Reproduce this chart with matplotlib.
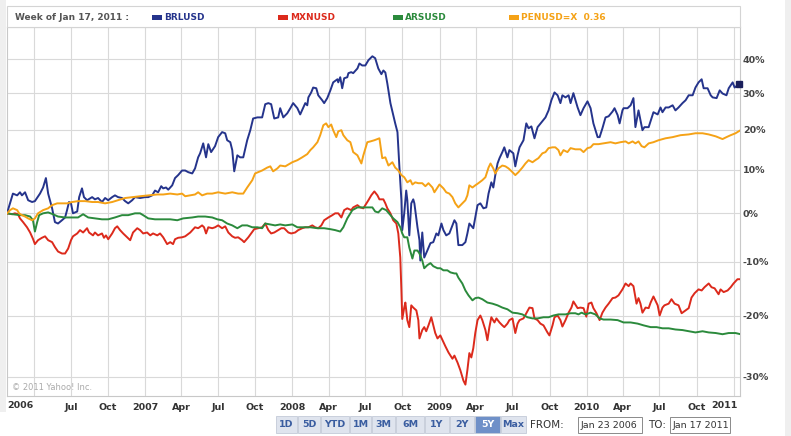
import matplotlib
matplotlib.use('Agg')
import matplotlib.pyplot as plt
import matplotlib.ticker as mticker
from matplotlib.patches import Rectangle
import datetime as dt

W, H = 791, 436
START = dt.datetime(2006, 1, 23)
END = dt.datetime(2011, 1, 17)

# ---- data: weeks since Jan 23 2006, percent change since start ----
brl_weeks = [0.0,2.1,3.6,4.6,5.3,6.4,7.5,8.9,9.9,11.7,12.8,13.8,14.6,16.0,17.0,18.1,19.5,20.6,21.3,22.0,
 22.7,23.4,24.9,25.6,26.6,27.3,28.4,30.2,31.2,32.3,33.7,34.8,35.9,37.3,38.3,39.4,40.8,41.9,43.0,44.4,
 45.4,47.2,49.0,50.1,51.5,52.5,53.6,54.7,55.4,56.4,57.2,58.6,59.6,60.7,62.1,63.2,64.3,65.7,66.7,67.8,
 68.5,69.6,70.6,71.4,72.4,73.8,74.9,76.3,77.4,78.1,79.2,79.9,80.6,81.7,82.7,83.8,85.2,86.3,87.3,88.8,
 90.5,91.6,92.7,93.7,94.8,96.2,96.9,98.0,99.4,100.5,101.5,103.0,104.0,105.1,105.8,106.5,106.9,107.9,108.6,109.7,
 110.4,111.8,112.5,113.6,114.7,115.7,117.2,117.5,118.2,118.9,119.6,120.7,121.1,122.1,122.8,124.3,125.0,126.0,127.1,128.2,
 129.6,130.6,131.7,132.8,133.5,134.2,134.9,136.0,137.0,137.7,138.5,139.2,139.9,140.2,140.9,141.6,142.0,142.7,143.4,144.1,
 144.5,145.6,146.3,146.6,147.3,148.0,149.1,150.2,151.2,152.3,153.0,154.1,154.8,155.8,156.9,158.0,158.7,159.4,160.1,161.5,
 162.6,163.3,164.0,165.4,166.1,166.9,167.9,169.0,170.0,170.8,171.8,172.5,173.2,174.0,174.7,175.7,176.4,177.5,178.2,179.6,
 180.3,181.1,181.8,183.2,184.2,185.0,186.0,187.1,188.2,189.6,191.0,192.1,193.1,194.2,195.3,196.3,197.0,198.1,199.2,199.9,
 200.9,202.4,203.4,204.5,205.9,207.0,208.0,209.5,210.2,211.2,212.3,213.4,214.8,215.5,216.6,217.3,218.3,218.7,220.1,221.2,
 222.2,222.9,224.0,224.7,225.4,226.1,227.6,228.6,229.3,230.8,231.8,232.5,233.6,234.7,236.1,237.1,238.2,239.6,240.7,241.8,
 243.2,244.2,245.3,246.4,247.1,248.5,249.6,250.3,251.7,252.8,253.8,255.2,256.0,257.4,258.1,259.5]
brl_pct = [0.0,4.4,4.0,4.7,4.0,4.7,2.9,2.5,2.7,4.4,5.8,8.0,4.4,1.1,-1.9,-2.2,-1.5,-0.9,0.7,2.5,
 2.2,0.0,0.4,3.6,5.6,3.6,2.9,3.6,3.1,3.4,2.5,3.4,2.9,3.6,4.0,3.6,3.4,2.7,2.2,2.9,
 3.6,3.4,3.6,3.6,4.0,5.1,4.7,6.1,5.6,5.8,5.3,6.3,8.0,8.7,9.8,9.8,9.4,9.1,10.3,13.0,
 14.0,16.5,13.0,16.3,14.3,15.8,18.1,19.4,19.1,17.3,16.8,14.8,9.6,13.5,13.0,13.0,17.3,19.9,23.0,23.3,
 23.3,26.9,27.2,26.9,23.0,23.3,25.8,23.3,24.4,25.8,27.2,25.8,24.1,26.0,27.2,26.6,28.8,30.2,31.6,31.4,
 29.4,28.0,27.2,28.6,30.8,33.1,34.0,33.1,34.6,31.4,34.3,34.6,35.8,36.1,35.8,37.2,38.7,38.1,38.1,39.7,
 40.9,40.3,37.2,35.5,36.6,36.0,32.8,27.2,23.9,21.7,19.4,10.5,2.9,-3.6,0.0,5.1,2.9,-4.7,2.2,3.1,
 2.2,-3.0,-5.7,-9.8,-4.1,-9.2,-7.8,-6.3,-6.1,-4.3,-4.7,-2.2,-3.6,-4.7,-4.3,-2.6,-1.5,-2.2,-6.7,-6.7,
 -6.1,-4.3,-2.2,-3.2,-0.9,1.8,2.2,1.1,1.3,4.4,7.0,5.8,8.7,11.5,12.8,14.3,15.5,13.0,14.8,14.0,
 10.8,13.5,15.5,17.3,21.7,20.4,20.9,17.8,20.7,22.0,23.3,25.2,28.0,30.2,29.4,27.2,29.4,28.8,29.4,27.2,
 30.0,26.0,23.9,25.8,27.7,25.8,21.7,18.1,18.1,20.4,23.3,23.6,24.9,25.8,23.9,21.7,25.2,25.8,25.8,26.6,
 28.6,20.7,25.2,22.5,19.9,20.7,20.7,23.0,24.7,24.1,26.0,24.7,26.0,26.0,26.6,25.2,26.0,27.2,28.0,29.4,
 29.4,31.6,33.1,34.0,31.4,31.4,29.4,28.8,28.6,30.8,29.9,29.4,31.4,33.1,31.6,32.5]

mxn_weeks = [0.0,1.8,2.8,3.9,4.6,5.7,7.1,8.2,9.2,9.9,11.0,12.4,13.5,14.6,16.0,17.0,18.1,19.5,20.6,21.7,
 22.7,23.4,24.9,25.9,27.0,28.4,29.1,30.5,31.2,32.3,33.7,34.4,35.1,35.9,37.3,38.3,39.1,40.1,41.2,42.6,
 43.7,44.7,46.2,47.2,48.3,49.7,50.8,51.8,53.3,54.3,55.4,56.8,57.9,58.9,59.6,60.7,62.1,63.2,65.0,66.7,
 67.8,69.2,69.9,70.6,71.4,72.8,73.8,74.9,76.3,77.4,78.5,79.9,80.9,82.0,83.4,84.1,85.6,86.6,87.7,89.1,
 90.5,91.6,92.7,93.7,94.8,96.2,97.3,98.3,99.8,100.8,102.2,103.3,104.7,105.8,106.9,108.3,109.3,110.4,111.5,112.5,
 114.0,115.4,116.4,117.5,118.6,119.6,120.7,122.1,122.8,124.3,125.3,126.4,127.1,128.2,129.2,130.3,131.4,132.1,133.5,134.2,
 134.9,136.0,137.0,138.1,138.8,139.5,139.9,140.2,140.9,141.3,142.0,142.7,143.4,144.1,145.2,145.9,146.3,147.3,148.0,148.7,
 149.5,150.5,151.2,151.9,152.7,153.7,154.8,155.5,156.6,158.0,158.7,159.8,160.8,161.9,162.6,163.3,164.0,164.7,165.4,166.1,
 166.9,167.9,168.6,169.7,170.4,171.1,171.8,172.9,173.6,174.7,175.7,176.4,177.5,178.2,179.3,180.3,181.1,181.8,183.2,184.2,
 185.3,186.4,187.1,188.2,189.2,190.3,191.7,192.4,193.5,194.2,195.3,196.3,197.0,198.1,199.2,200.2,200.9,202.4,203.4,204.5,
 205.5,206.3,207.3,208.0,209.1,210.2,211.2,212.3,213.4,214.8,215.8,216.9,218.3,219.4,220.5,221.2,222.2,223.3,224.0,224.7,
 225.4,226.5,227.6,228.3,229.3,230.8,231.5,232.5,233.2,234.7,235.7,236.8,238.2,239.3,240.7,241.8,242.8,243.9,245.3,246.4,
 247.4,248.9,249.9,251.0,252.4,253.1,254.2,255.6,256.7,257.7,259.1,260.2]
mxn_pct = [0.0,-0.2,0.0,-0.2,-1.1,-1.9,-3.0,-4.1,-5.4,-6.5,-5.7,-5.2,-4.9,-5.7,-6.1,-7.1,-8.0,-8.4,-8.4,-7.4,
 -5.7,-4.9,-4.3,-3.6,-4.1,-3.2,-4.1,-4.7,-4.1,-4.7,-4.3,-5.2,-4.7,-5.5,-4.3,-3.2,-2.8,-3.6,-4.3,-5.1,
 -5.7,-4.1,-3.2,-3.6,-4.3,-4.1,-4.7,-4.3,-4.7,-4.3,-5.1,-6.5,-6.1,-6.5,-5.5,-5.2,-5.1,-4.9,-4.1,-3.0,
 -3.2,-2.6,-3.0,-4.3,-3.0,-3.2,-3.0,-2.6,-3.2,-2.8,-4.1,-4.9,-5.2,-5.1,-5.7,-6.1,-5.1,-4.3,-3.4,-3.2,
 -3.0,-2.2,-3.6,-4.3,-4.1,-3.6,-3.2,-3.2,-4.1,-4.3,-4.1,-3.6,-3.2,-3.0,-3.0,-2.6,-3.0,-3.2,-2.6,-1.5,
 -0.9,-0.4,0.0,0.0,-0.9,0.7,1.1,0.7,1.3,1.8,1.3,1.1,1.8,2.9,4.0,4.9,4.0,3.1,3.1,2.2,
 1.1,0.0,-1.5,-2.2,-4.3,-9.2,-15.5,-20.6,-18.6,-17.7,-20.8,-22.0,-18.2,-18.6,-19.1,-20.8,-23.9,-22.5,-22.0,-22.7,
 -21.7,-20.3,-21.7,-23.0,-23.9,-23.4,-24.5,-25.2,-26.2,-27.2,-26.7,-27.8,-29.0,-30.6,-31.2,-29.0,-26.3,-27.0,-25.5,-23.0,
 -20.8,-20.0,-20.8,-22.5,-24.2,-22.0,-20.3,-21.2,-20.5,-21.2,-21.7,-22.0,-21.4,-20.8,-20.5,-23.0,-21.4,-20.8,-20.5,-19.6,
 -18.6,-18.7,-20.5,-20.8,-21.4,-21.7,-22.9,-23.4,-21.7,-20.3,-20.0,-20.8,-21.9,-20.8,-19.5,-18.6,-17.5,-18.7,-18.6,-18.7,
 -20.2,-17.9,-17.7,-18.7,-19.6,-20.8,-19.5,-18.6,-17.9,-16.9,-16.8,-16.4,-15.3,-14.2,-14.7,-14.2,-14.7,-17.9,-16.9,-17.9,
 -19.5,-18.6,-18.7,-17.7,-16.6,-18.2,-20.0,-18.6,-18.2,-17.9,-17.1,-17.9,-18.2,-19.6,-19.1,-18.7,-16.8,-16.0,-15.3,-15.5,
 -14.9,-14.2,-14.9,-15.1,-16.2,-15.3,-15.8,-15.5,-14.9,-14.2,-13.4,-13.4]

ars_weeks = [0.0,2.1,4.6,6.4,8.2,9.2,9.9,10.7,11.4,12.8,14.6,16.3,18.1,20.6,23.1,25.2,27.0,28.8,31.2,33.7,
 35.9,38.3,40.8,43.0,45.4,47.2,48.3,50.1,52.5,55.0,57.9,60.4,62.5,65.7,67.8,70.3,72.8,74.6,76.3,78.1,
 79.9,81.7,83.4,85.2,87.0,88.8,90.5,91.6,93.4,95.1,96.9,98.7,101.2,103.0,105.1,107.6,110.1,112.5,114.7,116.4,
 118.2,119.3,120.7,121.8,122.5,124.3,126.0,128.2,129.6,130.6,131.7,133.1,134.5,136.0,137.0,138.5,139.5,140.2,140.9,142.0,
 142.7,143.8,144.5,145.6,146.3,147.3,148.0,149.1,150.2,151.2,152.7,153.7,154.8,156.2,157.3,158.7,159.4,160.1,161.5,162.6,
 163.7,165.1,166.1,167.2,168.6,170.4,172.2,174.0,175.7,177.5,179.3,181.1,182.8,184.6,186.4,188.2,190.3,192.1,193.8,195.6,
 198.1,199.9,201.6,202.7,203.8,205.2,207.0,208.7,210.2,211.6,214.1,216.6,218.7,221.2,223.7,225.8,228.3,230.4,232.5,234.7,
 237.1,239.6,241.8,244.2,246.7,248.9,251.4,253.8,256.0,258.4,260.2]
ars_pct = [0.0,-0.2,-0.4,-0.4,-0.7,-1.5,-3.9,-1.9,-0.4,0.0,0.2,-0.2,-0.7,-0.9,-0.9,-0.9,-0.2,-0.9,-1.1,-1.3,
 -1.3,-0.9,-0.4,-0.4,0.0,0.0,-0.4,-1.1,-1.3,-1.3,-1.3,-1.5,-1.1,-0.9,-0.7,-0.7,-0.9,-1.3,-1.5,-2.2,
 -2.6,-3.2,-2.6,-2.6,-3.0,-3.0,-3.2,-2.2,-2.4,-2.6,-2.4,-2.6,-2.4,-3.0,-3.0,-3.0,-3.2,-3.2,-3.4,-3.6,
 -3.9,-3.0,-1.1,0.0,0.7,1.3,1.3,1.3,1.3,0.4,0.2,1.1,0.7,-0.4,-1.1,-1.9,-3.0,-4.3,-5.1,-5.1,
 -7.2,-9.4,-7.8,-7.8,-8.4,-9.8,-11.3,-10.7,-10.3,-10.9,-11.3,-11.3,-11.7,-11.7,-12.1,-12.3,-12.3,-13.1,-14.2,-15.5,
 -16.4,-17.3,-16.9,-16.8,-17.1,-17.7,-17.9,-18.2,-18.6,-18.9,-19.5,-19.6,-19.8,-20.3,-20.5,-20.5,-20.3,-20.3,-20.0,-19.8,
 -19.8,-19.6,-19.6,-19.8,-19.5,-19.8,-19.5,-19.8,-20.5,-20.7,-20.7,-20.8,-21.2,-21.2,-21.4,-21.7,-22.0,-22.0,-22.2,-22.2,
 -22.4,-22.5,-22.7,-22.9,-22.7,-22.9,-23.0,-23.2,-23.0,-23.0,-23.2]

pen_weeks = [0.0,1.1,2.1,3.6,4.3,5.3,6.4,7.5,8.9,9.9,11.0,12.8,14.6,16.0,17.8,19.5,21.3,23.1,25.2,27.7,
 30.2,32.3,34.8,37.3,39.4,41.9,44.4,47.2,50.1,53.3,55.4,57.9,60.4,62.1,63.2,65.0,66.7,67.8,69.2,71.0,
 72.8,74.9,77.4,79.9,82.0,83.8,85.2,87.0,88.0,89.1,90.5,92.3,93.4,94.4,95.9,96.9,98.7,101.2,103.0,104.7,
 106.5,107.6,108.6,110.1,111.1,112.2,113.2,114.0,115.0,115.7,116.8,117.5,118.6,119.3,120.7,121.8,122.8,124.3,125.7,126.4,
 127.8,128.9,130.3,131.4,132.1,133.1,134.2,135.3,136.7,137.7,138.8,139.9,140.9,142.0,143.1,143.8,144.8,145.9,147.3,148.4,
 149.5,150.9,151.6,152.7,153.4,154.8,155.8,156.9,158.0,159.0,160.1,161.5,162.6,163.3,164.0,165.1,166.1,167.2,168.6,169.7,
 170.8,171.5,172.5,173.2,174.3,175.7,176.8,177.9,179.3,180.3,181.4,182.8,183.9,185.0,186.4,187.4,188.5,189.9,191.0,192.1,
 193.5,194.5,195.6,196.3,197.4,198.8,199.9,201.6,203.4,204.5,205.9,207.0,208.0,209.8,211.6,214.1,215.8,217.6,219.4,220.5,
 221.9,222.9,224.0,225.1,226.1,227.6,229.3,231.1,233.6,236.1,238.9,241.8,244.2,246.7,248.9,251.4,253.8,255.2,256.7,258.4,260.2]
pen_pct = [0.0,0.7,1.1,0.7,0.0,-0.4,-0.7,-1.1,-1.5,-1.1,0.0,0.7,1.1,1.8,2.2,2.2,2.2,2.5,2.7,2.7,
 2.5,2.5,2.2,2.5,2.9,3.4,3.6,3.8,4.0,4.2,4.2,4.4,4.2,4.4,3.8,4.0,4.2,4.7,4.0,4.4,
 4.4,4.7,4.4,4.7,4.4,4.4,5.8,7.5,9.1,9.4,9.8,10.5,10.8,9.6,10.3,11.0,10.8,11.8,12.3,13.0,
 13.8,14.8,15.5,16.8,18.6,21.2,21.7,20.7,21.4,19.9,18.1,19.6,19.9,18.6,17.3,16.8,14.3,13.5,11.5,13.5,
 16.8,17.0,17.3,17.6,17.8,12.8,13.0,11.0,11.8,10.5,9.8,8.7,8.2,7.0,7.5,6.5,7.0,6.8,6.8,6.1,
 6.8,5.8,4.7,5.8,6.5,5.6,4.7,4.4,3.6,2.2,1.3,2.2,2.9,4.0,6.3,5.8,6.3,6.8,7.5,8.2,
 10.5,11.5,10.3,9.1,10.3,11.0,10.8,10.3,9.4,8.7,9.4,10.5,11.5,12.3,11.8,12.3,12.8,14.0,14.3,15.3,
 15.5,15.5,14.8,13.5,14.8,14.3,15.3,15.0,15.0,14.3,15.3,15.5,16.3,16.3,16.5,16.8,16.5,16.8,17.0,16.5,
 17.0,16.5,17.0,15.8,15.5,16.5,16.8,17.3,17.8,18.1,18.6,18.8,19.1,19.1,18.8,18.3,17.6,18.1,18.6,19.1,19.9]

series_names = ['BRLUSD', 'MXNUSD', 'ARSUSD', 'PENUSD=X  0.36']
series_colors = ['#25348c', '#dc2a1c', '#2b8a3c', '#f5a216']

y_tick_values = [-30, -20, -10, 0, 10, 20, 30, 40]
y_tick_labels = ['-30%', '-20%', '-10%', '0%', '10%', '20%', '30%', '40%']
x_tick_dates = [(2006, 4), (2006, 7), (2006, 10), (2007, 1), (2007, 4), (2007, 7), (2007, 10),
                (2008, 1), (2008, 4), (2008, 7), (2008, 10), (2009, 1), (2009, 4), (2009, 7),
                (2009, 10), (2010, 1), (2010, 4), (2010, 7), (2010, 10), (2011, 1)]
x_tick_labels = ['', 'Jul', 'Oct', '2007', 'Apr', 'Jul', 'Oct', '2008', 'Apr', 'Jul', 'Oct',
                 '2009', 'Apr', 'Jul', 'Oct', '2010', 'Apr', 'Jul', 'Oct', '']
range_buttons = ['1D', '5D', 'YTD', '1M', '3M', '6M', '1Y', '2Y', '5Y', 'Max']

for a, b in [(brl_weeks, brl_pct), (mxn_weeks, mxn_pct), (ars_weeks, ars_pct), (pen_weeks, pen_pct)]:
    assert len(a) == len(b), (len(a), len(b))


def to_dates(weeks):
    return [START + dt.timedelta(days=7 * w) for w in weeks]


def to_ratio(p):
    return [1 + v / 100.0 for v in p]


def fx(x):
    return x / W


def fy(y):
    return 1 - y / H


plt.rcParams['font.family'] = ['DejaVu Sans']
fig = plt.figure(figsize=(W / 100, H / 100), dpi=100)
fig.patch.set_facecolor('white')

# outer light grey page strips
fig.patches.append(Rectangle((0, fy(412)), fx(6), 1 - fy(412), transform=fig.transFigure,
                             facecolor='#efefef', edgecolor='none', zorder=0))
fig.patches.append(Rectangle((fx(785), 0), 1 - fx(785), 1, transform=fig.transFigure,
                             facecolor='#efefef', edgecolor='none', zorder=0))
# header box
fig.patches.append(Rectangle((fx(7), fy(27)), fx(740) - fx(7), fy(6) - fy(27), transform=fig.transFigure,
                             facecolor='white', edgecolor='#d4d4d4', lw=0.8, zorder=1))

ax = fig.add_axes([fx(7), fy(396), (740 - 7) / W, (396 - 27) / H])
ax.set_facecolor('white')
ax.set_yscale('log')
ax.set_xlim(START, END)
ax.set_ylim(0.6711, 1.502)

yt = [1 + v / 100 for v in y_tick_values]
ax.yaxis.set_major_locator(mticker.FixedLocator(yt))
ax.yaxis.set_minor_locator(mticker.NullLocator())
ax.yaxis.set_major_formatter(mticker.FixedFormatter(y_tick_labels))
ax.yaxis.tick_right()

xt = [dt.datetime(y, m, 1) for y, m in x_tick_dates]
ax.set_xticks(xt)
ax.set_xticklabels(x_tick_labels)
ax.xaxis.set_minor_locator(mticker.NullLocator())

ax.tick_params(axis='both', length=0, labelsize=6.8, labelcolor='#333333')
ax.tick_params(axis='y', pad=2, labelcolor='#444444')
ax.tick_params(axis='x', pad=5)
for lab in ax.get_xticklabels() + ax.get_yticklabels():
    lab.set_fontweight('bold')

ax.grid(True, color='#d9d9d9', lw=0.8)
ax.set_axisbelow(True)
for s in ax.spines.values():
    s.set_color('#c8c8c8')
    s.set_linewidth(0.8)

data = [(brl_weeks, brl_pct), (mxn_weeks, mxn_pct), (ars_weeks, ars_pct), (pen_weeks, pen_pct)]
for (wk, pc), col in zip(data, series_colors):
    ax.plot(to_dates(wk), to_ratio(pc), color=col, lw=1.4, solid_joinstyle='round', zorder=3)
ax.plot(to_dates(brl_weeks[-1:]), to_ratio(brl_pct[-1:]), marker='s', ms=4.5, color='#1a1f5c',
        ls='none', zorder=4, clip_on=False)

# x-axis edge labels
fig.text(fx(7), fy(405), '2006', ha='left', va='center', fontsize=6.8, fontweight='bold', color='#333333')
fig.text(fx(738), fy(405), '2011', ha='right', va='center', fontsize=6.8, fontweight='bold', color='#333333')

# copyright
fig.text(fx(12), fy(387), '\u00a9 2011 Yahoo! Inc.', ha='left', va='center', fontsize=6, color='#aaaaaa')

# header legend
fig.text(fx(15), fy(17), 'Week of Jan 17, 2011 :', ha='left', va='center', fontsize=6.5,
         fontweight='bold', color='#555555')
legend_x = [152, 278, 393, 509]
for lx, name, col in zip(legend_x, series_names, series_colors):
    fig.patches.append(Rectangle((fx(lx), fy(20)), 10 / W, 4.5 / H, transform=fig.transFigure,
                                 facecolor=col, edgecolor='none', zorder=2))
    fig.text(fx(lx + 12), fy(17), name, ha='left', va='center', fontsize=6.5, fontweight='bold', color=col)

# range buttons
btn_edges = [276, 298, 321, 350, 372, 396, 425, 450, 475, 501, 527]
for i, lab in enumerate(range_buttons):
    x0, x1 = btn_edges[i], btn_edges[i + 1] - 1
    sel = lab == '5Y'
    fig.patches.append(Rectangle((fx(x0), fy(433)), (x1 - x0) / W, 17 / H, transform=fig.transFigure,
                                 facecolor='#6f90c8' if sel else '#dfe4ee', edgecolor='#c3cad8', lw=0.6, zorder=2))
    fig.text(fx((x0 + x1) / 2), fy(424.5), lab, ha='center', va='center', fontsize=6.8, fontweight='bold',
             color='white' if sel else '#3a5da0')

fig.text(fx(530), fy(425), 'FROM:', ha='left', va='center', fontsize=7.5, color='#333333')
fig.text(fx(648), fy(425), 'TO:', ha='left', va='center', fontsize=7.5, color='#333333')
for (x0, x1), txt in zip([(578, 642), (670, 730)], ['Jan 23 2006', 'Jan 17 2011']):
    fig.patches.append(Rectangle((fx(x0), fy(433)), (x1 - x0) / W, 16 / H, transform=fig.transFigure,
                                 facecolor='white', edgecolor='#8a8a8a', lw=0.7, zorder=2))
    fig.text(fx(x0 + 3), fy(425), txt, ha='left', va='center', fontsize=6.8, color='#333333')

fig.savefig('out.png', dpi=100)
